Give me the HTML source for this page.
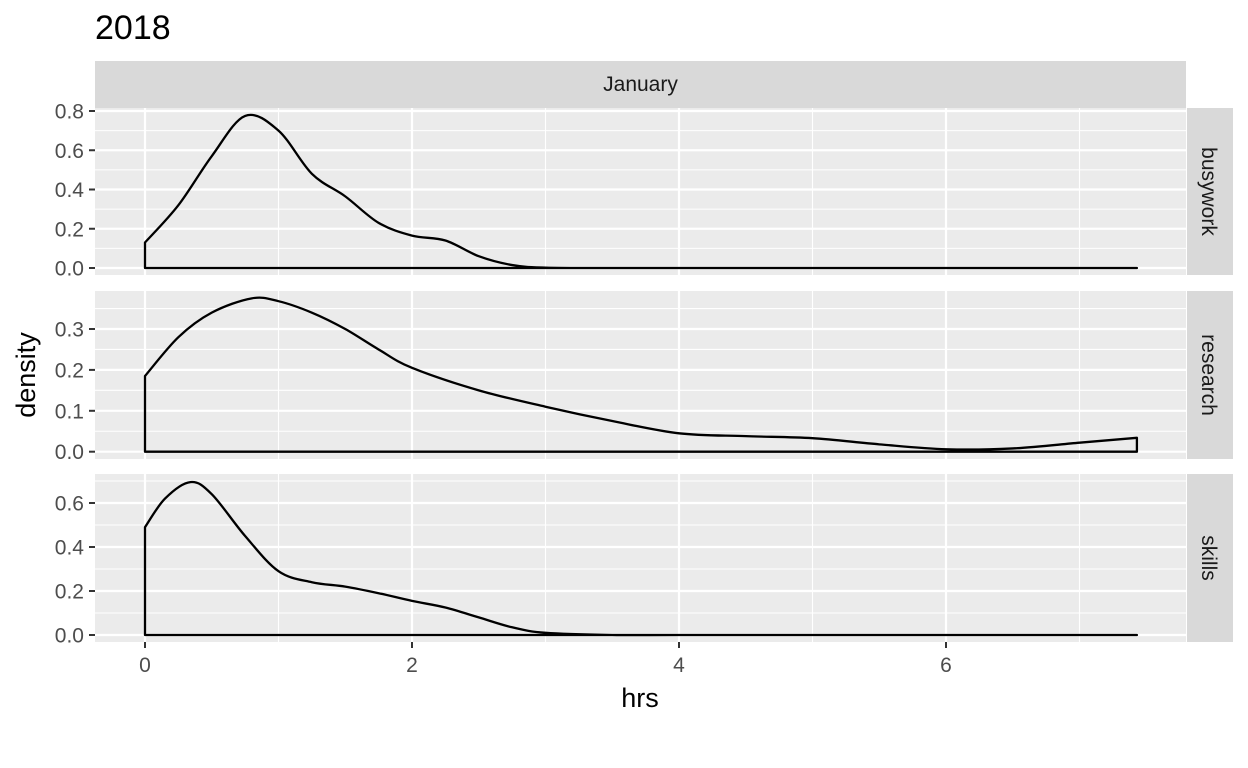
<!DOCTYPE html>
<html><head><meta charset="utf-8"><style>body{margin:0;background:#fff}svg{display:block;font-family:"Liberation Sans",sans-serif}</style></head>
<body>
<svg id="c" width="1248" height="768"></svg>
<script>
const xs1=[0,0.25,0.5,0.75,1,1.25,1.5,1.75,2,2.25,2.5,2.75,3,3.5,4,5,6,7,7.43];
const busywork=[0.13,0.32,0.57,0.775,0.7,0.48,0.365,0.23,0.165,0.14,0.06,0.015,0.002,0,0,0,0,0,0];
const xs2=[0,0.25,0.5,0.8,1,1.25,1.5,1.75,2,2.5,3,3.5,4,4.5,5,5.5,6,6.5,7,7.43];
const research=[0.185,0.28,0.34,0.375,0.368,0.34,0.3,0.25,0.205,0.15,0.11,0.075,0.045,0.038,0.033,0.018,0.006,0.008,0.022,0.034];
const xs3=[0,0.15,0.34,0.5,0.75,1,1.25,1.5,1.75,2,2.25,2.5,2.75,3,3.5,4,5,6,7,7.43];
const skills=[0.49,0.62,0.695,0.64,0.45,0.29,0.24,0.22,0.19,0.155,0.125,0.08,0.035,0.01,0,0,0,0,0,0];
const xTicks=[0,2,4,6];
const facets=["busywork","research","skills"];
const yTicks=[[0,0.2,0.4,0.6,0.8],[0,0.1,0.2,0.3],[0,0.2,0.4,0.6]];
const NS="http://www.w3.org/2000/svg";
const svg=document.getElementById('c');
function el(t,a,p){const e=document.createElementNS(NS,t);for(const k in a)e.setAttribute(k,a[k]);(p||svg).appendChild(e);return e;}
const X=v=>145+v*133.5;
const panels=[
 {top:108,bot:275,y0:268,k:196.25,xs:xs1,ys:busywork},
 {top:291,bot:459,y0:451.7,k:409,xs:xs2,ys:research},
 {top:474,bot:642,y0:635,k:220,xs:xs3,ys:skills}];
const L=95,R=1186;
let t=el('text',{x:95,y:39,'font-size':34,fill:'#000'});t.textContent='2018';

let s=el('rect',{x:L,y:61,width:R-L,height:47,fill:'#d9d9d9'});

t=el('text',{x:(L+R)/2,y:91,'font-size':21,fill:'#1a1a1a','text-anchor':'middle'});t.textContent='January';

panels.forEach((p,i)=>{
 const Y=v=>p.y0-v*p.k;
 const r=el('rect',{x:L,y:p.top,width:R-L,height:p.bot-p.top,fill:'#ebebeb'});
 
 const yt=yTicks[i],step=yt[1]-yt[0];
 for(let j=0;j<yt.length;j++){const m=yt[j]+step/2;const ym=Y(m);if(ym>p.top)el('line',{x1:L,x2:R,y1:ym,y2:ym,stroke:'#fff','stroke-width':1.1});}
 for(let v=1;v<=7;v+=2)el('line',{x1:X(v),x2:X(v),y1:p.top,y2:p.bot,stroke:'#fff','stroke-width':1.1});
 yt.forEach(v=>{el('line',{x1:L,x2:R,y1:Y(v),y2:Y(v),stroke:'#fff','stroke-width':2.2});
  el('line',{x1:89,x2:95,y1:Y(v),y2:Y(v),stroke:'#333','stroke-width':2});
  const l=el('text',{x:84,y:Y(v)+7.5,'font-size':21,fill:'#4d4d4d','text-anchor':'end'});l.textContent=v.toFixed(1);
  });
 xTicks.forEach(v=>el('line',{x1:X(v),x2:X(v),y1:p.top,y2:p.bot,stroke:'#fff','stroke-width':2.2}));
 const pts=p.xs.map((x,j)=>[X(x),Y(p.ys[j])]);
 let d='M'+X(p.xs[0])+','+Y(0)+' L'+pts[0][0]+','+pts[0][1];
 for(let j=0;j<pts.length-1;j++){const p0=pts[Math.max(0,j-1)],p1=pts[j],p2=pts[j+1],p3=pts[Math.min(pts.length-1,j+2)];
  d+=' C'+(p1[0]+(p2[0]-p0[0])/6)+','+(p1[1]+(p2[1]-p0[1])/6)+' '+(p2[0]-(p3[0]-p1[0])/6)+','+(p2[1]-(p3[1]-p1[1])/6)+' '+p2[0]+','+p2[1];}
 d+=' L'+pts[pts.length-1][0]+','+Y(0)+' Z';
 const c=el('path',{d:d,fill:'none',stroke:'#000','stroke-width':2.3,'stroke-linejoin':'round'});
 
 const rs=el('rect',{x:1187,y:p.top,width:46,height:p.bot-p.top,fill:'#d9d9d9'});
 
 const cy=(p.top+p.bot)/2;
 const st=el('text',{x:1202,y:cy,'font-size':21,fill:'#1a1a1a','text-anchor':'middle',transform:'rotate(90 1202 '+cy+')'});st.textContent=facets[i];
 
});
xTicks.forEach(v=>{el('line',{x1:X(v),x2:X(v),y1:642,y2:648,stroke:'#333','stroke-width':2});
 const l=el('text',{x:X(v),y:672,'font-size':21,fill:'#4d4d4d','text-anchor':'middle'});l.textContent=v;
 });
t=el('text',{x:640,y:707,'font-size':27,fill:'#000','text-anchor':'middle'});t.textContent='hrs';

t=el('text',{x:35,y:375,'font-size':27,fill:'#000','text-anchor':'middle',transform:'rotate(-90 35 375)'});t.textContent='density';

</script>
</body></html>
